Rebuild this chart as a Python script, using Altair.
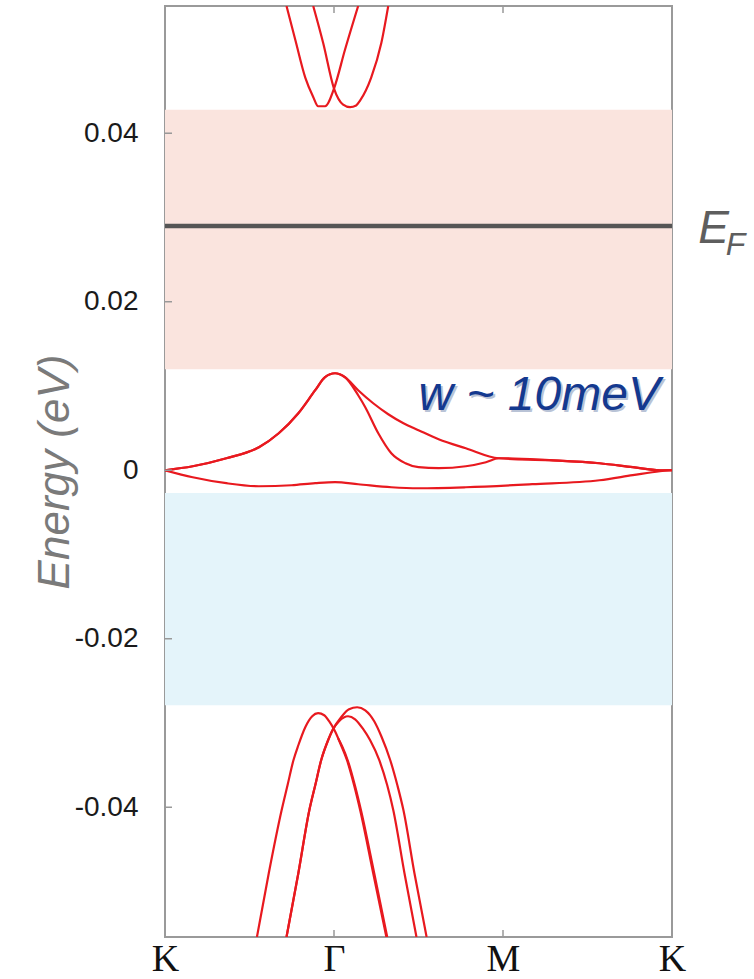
import altair as alt
import pandas as pd

# ---------------- data ----------------
K_POINTS = [0, 1, 2, 3]
K_LABELS = ["K", "Γ", "M", "K"]
Y_TICKS = [-0.04, -0.02, 0.0, 0.02, 0.04]
Y_LABELS = ["-0.04", "-0.02", "0", "0.02", "0.04"]
Y_DOMAIN = [-0.0554, 0.0551]

# conduction bands (top)
CB1_k = [0.719, 0.772, 0.830, 0.877, 0.906, 0.947, 1.000, 1.065, 1.143]
CB1_E = [0.0551, 0.0510, 0.0466, 0.0443, 0.0432, 0.0432, 0.0453, 0.0499, 0.0551]
CB2_k = [0.877, 0.936, 1.000, 1.054, 1.095, 1.131, 1.155, 1.220, 1.280, 1.321]
CB2_E = [0.0551, 0.0507, 0.0453, 0.0434, 0.0431, 0.0433, 0.0439, 0.0466, 0.0507, 0.0551]

# flat bands near zero
FB1_k = [0, 0.164, 0.363, 0.556, 0.673, 0.789, 0.889, 0.947, 1.006, 1.065, 1.143,
         1.232, 1.321, 1.411, 1.500, 1.619, 1.780, 1.976, 2.274, 2.571, 2.768, 2.929, 3.0]
FB1_E = [0.0, 0.00047, 0.00142, 0.00273, 0.00439, 0.00677, 0.00950, 0.01104, 0.01151,
         0.01104, 0.00950, 0.00795, 0.00665, 0.00558, 0.00475, 0.00368, 0.00261,
         0.00142, 0.00119, 0.00083, 0.00036, 0.0, 0.0]
FB2_k = [0, 0.164, 0.363, 0.556, 0.673, 0.789, 0.889, 0.947, 1.006, 1.065, 1.143,
         1.185, 1.262, 1.339, 1.423, 1.500, 1.619, 1.780, 1.899, 1.976, 2.274, 2.571,
         2.768, 2.929, 3.0]
FB2_E = [0.0, 0.00047, 0.00142, 0.00273, 0.00439, 0.00677, 0.00950, 0.01104, 0.01151,
         0.01104, 0.00890, 0.00748, 0.00439, 0.00202, 0.00083, 0.00036, 0.00024,
         0.00047, 0.00095, 0.00142, 0.00119, 0.00083, 0.00036, 0.0, 0.0]
FB3_k = [0, 0.164, 0.363, 0.556, 0.749, 0.889, 1.006, 1.143, 1.339, 1.500, 1.780,
         2.173, 2.571, 2.768, 2.929, 3.0]
FB3_E = [0.0, -0.00083, -0.00154, -0.00190, -0.00178, -0.00154, -0.00142, -0.00166,
         -0.00202, -0.00214, -0.00202, -0.00166, -0.00119, -0.00059, -0.00012, 0.0]

# valence bands (bottom)
VC_k = [0.544, 0.614, 0.690, 0.725, 0.760, 0.789, 0.830, 0.871, 0.906, 0.942, 0.971,
        1.006, 1.042, 1.077, 1.119, 1.155, 1.232, 1.310]
VC_E = [-0.0554, -0.04783, -0.04036, -0.03739, -0.03442, -0.03264, -0.03050, -0.02920,
        -0.02884, -0.02908, -0.02979, -0.03098, -0.03264, -0.03442, -0.03739, -0.04036,
        -0.04783, -0.0554]
VD_k = [0.719, 0.789, 0.854, 0.889, 0.924, 0.965, 0.994, 1.030, 1.083, 1.125, 1.173,
        1.214, 1.268, 1.315, 1.351, 1.417, 1.488]
VD_E = [-0.0554, -0.04783, -0.04036, -0.03739, -0.03442, -0.03205, -0.03074, -0.02979,
        -0.02920, -0.02956, -0.03074, -0.03205, -0.03442, -0.03739, -0.04036, -0.04783,
        -0.0554]
VE_k = [0.719, 0.789, 0.854, 0.889, 0.924, 0.965, 0.994, 1.042, 1.089, 1.137, 1.185,
        1.238, 1.280, 1.333, 1.375, 1.411, 1.476, 1.548]
VE_E = [-0.0554, -0.04783, -0.04036, -0.03739, -0.03442, -0.03205, -0.03074, -0.02932,
        -0.02837, -0.02813, -0.02849, -0.02979, -0.03157, -0.03442, -0.03739, -0.04036,
        -0.04783, -0.0554]
VC2_k = [1.024, 1.048, 1.083, 1.125, 1.161, 1.238, 1.315]
VC2_E = [-0.03181, -0.03276, -0.03454, -0.03751, -0.04047, -0.04783, -0.0554]

# shaded windows and Fermi level
BAND_LO = [0.0120, -0.0279]
BAND_HI = [0.0428, -0.0027]
BAND_COLORS = ["#fae4de", "#e4f4fa"]
E_FERMI = 0.0290

ANNOT_TEXT = "w ~ 10meV"
ANNOT_K = 2.214
ANNOT_E = 0.00712
EF_K = [3.155, 3.318]
EF_E = [0.02694, 0.02552]
EF_TEXT = ["E", "F"]

# ---------------- build tables ----------------
curves = {
    "cb1": (CB1_k, CB1_E), "cb2": (CB2_k, CB2_E),
    "fb1": (FB1_k, FB1_E), "fb2": (FB2_k, FB2_E), "fb3": (FB3_k, FB3_E),
    "vc": (VC_k, VC_E), "vc2": (VC2_k, VC2_E), "vd": (VD_k, VD_E), "ve": (VE_k, VE_E),
}
rows = []
for name, (ks, es) in curves.items():
    for kk, ee in zip(ks, es):
        rows.append({"band": name, "k": kk, "E": ee})
lines_df = pd.DataFrame(rows)

bands_df = pd.DataFrame({
    "k": [K_POINTS[0]] * 2, "k2": [K_POINTS[-1]] * 2,
    "E": BAND_LO, "E2": BAND_HI, "color": BAND_COLORS,
})
ef_df = pd.DataFrame({"k": [K_POINTS[0]], "k2": [K_POINTS[-1]], "E": [E_FERMI]})
annot_df = pd.DataFrame({"k": [ANNOT_K], "E": [ANNOT_E], "text": [ANNOT_TEXT]})
efE_df = pd.DataFrame({"k": [EF_K[0]], "E": [EF_E[0]], "text": [EF_TEXT[0]]})
efF_df = pd.DataFrame({"k": [EF_K[1]], "E": [EF_E[1]], "text": [EF_TEXT[1]]})
xt_df = pd.DataFrame({"k": K_POINTS[1:3]})
yt_df = pd.DataFrame({"E": Y_TICKS})

# ---------------- axes / scales ----------------
W, H = 507, 931

x_expr = " : ".join(
    f"datum.value == {v} ? '{l}'" for v, l in zip(K_POINTS, K_LABELS)
) + " : ''"
y_expr = " : ".join(
    f"abs(datum.value - ({v})) < 1e-6 ? '{l}'" for v, l in zip(Y_TICKS, Y_LABELS)
) + " : ''"

xs = alt.Scale(domain=[K_POINTS[0], K_POINTS[-1]], nice=False, zero=False)
ys = alt.Scale(domain=Y_DOMAIN, nice=False, zero=False)

x_axis = alt.Axis(values=K_POINTS, labelExpr=x_expr, ticks=False, grid=False,
                  domain=False, labelFont="Liberation Serif", labelFontSize=38,
                  labelColor="#111111", labelPadding=33, labelBaseline="alphabetic",
                  title=None, labelFlush=False, labelOverlap=False)
y_axis = alt.Axis(values=Y_TICKS, labelExpr=y_expr, ticks=False, grid=False,
                  domain=False, labelFont="Liberation Sans", labelFontSize=28,
                  labelColor="#1a1a1a", labelPadding=27, labelOverlap=False,
                  title="Energy (eV)", titleFont="Liberation Sans", titleFontSize=44,
                  titleFontStyle="italic", titleFontWeight="normal",
                  titleColor="#7a7a7a", titleX=-97, titleY=H / 2, titleAngle=270,
                  titleBaseline="alphabetic", titleAlign="center")

X = alt.X("k:Q", scale=xs, axis=x_axis)
Y = alt.Y("E:Q", scale=ys, axis=y_axis)

rects = alt.Chart(bands_df).mark_rect().encode(
    x=X, x2="k2:Q", y=Y, y2="E2:Q", color=alt.Color("color:N", scale=None)
)
ef_rule = alt.Chart(ef_df).mark_rule(color="#555555", strokeWidth=4.5).encode(
    x=X, x2="k2:Q", y=Y
)
lines = alt.Chart(lines_df).mark_line(
    color="#e8191f", strokeWidth=2.2, interpolate="monotone", clip=True
).encode(x=X, y=Y, detail="band:N")

tick_col = "#999999"
xt_bot = alt.Chart(xt_df).mark_rule(color=tick_col, strokeWidth=1.5).encode(
    x=X, y=alt.value(H), y2=alt.value(H - 7))
xt_top = alt.Chart(xt_df).mark_rule(color=tick_col, strokeWidth=1.5).encode(
    x=X, y=alt.value(0), y2=alt.value(7))
yt = alt.Chart(yt_df).mark_rule(color=tick_col, strokeWidth=1.5).encode(
    y=Y, x=alt.value(0), x2=alt.value(7))

annot_shadow = alt.Chart(annot_df).mark_text(
    font="Liberation Sans", fontSize=48, fontStyle="italic", color="#b9c3d6",
    align="center", baseline="alphabetic", dx=2, dy=2
).encode(x=X, y=Y, text="text:N")
annot = alt.Chart(annot_df).mark_text(
    font="Liberation Sans", fontSize=48, fontStyle="italic", color="#14398f",
    align="center", baseline="alphabetic"
).encode(x=X, y=Y, text="text:N")

efE = alt.Chart(efE_df).mark_text(
    font="Liberation Sans", fontSize=46, fontStyle="italic", color="#5e5e5e",
    align="left", baseline="alphabetic"
).encode(x=X, y=Y, text="text:N")
efF = alt.Chart(efF_df).mark_text(
    font="Liberation Sans", fontSize=32, fontStyle="italic", color="#5e5e5e",
    align="left", baseline="alphabetic"
).encode(x=X, y=Y, text="text:N")

chart = alt.layer(
    rects, ef_rule, lines, xt_bot, xt_top, yt, annot_shadow, annot, efE, efF
).properties(
    width=W, height=H,
    autosize=alt.AutoSizeParams(type="none"),
    padding={"left": 165, "top": 6, "right": 82, "bottom": 42},
    background="white",
).configure_view(stroke="#9a9a9a", strokeWidth=2)

chart.save("out.html", embed_options={"renderer": "svg", "actions": False})
